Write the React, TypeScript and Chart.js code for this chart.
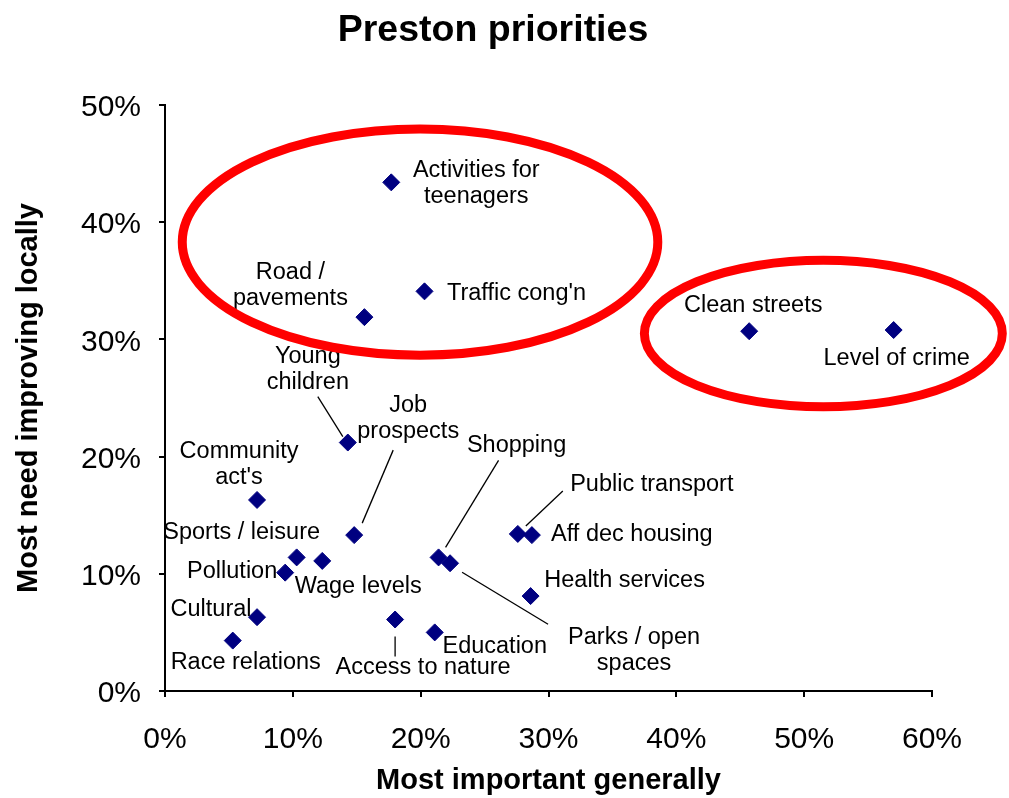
import React, { useEffect, useRef } from "react";
import { Chart, registerables } from "chart.js";

Chart.register(...registerables);

const FONT = '"Liberation Sans", Arial, Helvetica, sans-serif';

const TITLE = "Preston priorities";
const X_TITLE = "Most important generally";
const Y_TITLE = "Most need improving locally";

// Category labels ("\n" = line break in the label)
const names: string[] = [
  "Activities for\nteenagers",
  "Traffic cong'n",
  "Road /\npavements",
  "Clean streets",
  "Level of crime",
  "Young\nchildren",
  "Community\nact's",
  "Job\nprospects",
  "Sports / leisure",
  "Wage levels",
  "Pollution",
  "Cultural",
  "Race relations",
  "Access to nature",
  "Education",
  "Shopping",
  "Parks / open\nspaces",
  "Public transport",
  "Aff dec housing",
  "Health services",
];

// Most important generally (%)
const importantGenerally: number[] = [
  17.7, 20.3, 15.6, 45.7, 57.0, 14.3, 7.2, 14.8, 10.3, 12.3,
  9.4, 7.2, 5.3, 18.0, 21.1, 21.4, 22.3, 27.6, 28.7, 28.6,
];

// Most need improving locally (%)
const needImproving: number[] = [
  43.4, 34.1, 31.9, 30.7, 30.8, 21.2, 16.3, 13.3, 11.4, 11.1,
  10.1, 6.3, 4.3, 6.1, 5.0, 11.4, 10.9, 13.4, 13.3, 8.1,
];

const xTickValues: number[] = [0, 10, 20, 30, 40, 50, 60];
const yTickValues: number[] = [0, 10, 20, 30, 40, 50];

// Highlight ellipses (in data units: centre and radii)
const ellipseCx: number[] = [19.95, 51.5];
const ellipseCy: number[] = [38.3, 30.5];
const ellipseRx: number[] = [18.6, 14.0];
const ellipseRy: number[] = [9.65, 6.25];

// Label placement (pixel offsets of text block centre from the point, optional leader line)
const labelLayout: { dx: number; dy: number; line?: [number, number, number, number] }[] = [
  { dx: 85, dy: 1 },
  { dx: 92, dy: 2 },
  { dx: -74, dy: -31.5 },
  { dx: 4, dy: -26 },
  { dx: 3, dy: 28 },
  { dx: -40, dy: -73, line: [-30, -46, -5, -6] },
  { dx: -18, dy: -35.5 },
  { dx: 54, dy: -117, line: [39, -85, 8, -12] },
  { dx: -55, dy: -25 },
  { dx: 36, dy: 26 },
  { dx: -53, dy: -1 },
  { dx: -46, dy: -8 },
  { dx: 13, dy: 22 },
  { dx: 28, dy: 48, line: [0, 17, 0, 37] },
  { dx: 60, dy: 14 },
  { dx: 78, dy: -112, line: [60, -97, 7, -10] },
  { dx: 184, dy: 87, line: [12, 9, 98, 61] },
  { dx: 134, dy: -49, line: [45, -43, 8, -8] },
  { dx: 100, dy: -1 },
  { dx: 94, dy: -16 },
];

const annotationPlugin = {
  id: "annotations",
  afterDatasetsDraw(chart: any) {
    const ctx: CanvasRenderingContext2D = chart.ctx;
    const xs = chart.scales.x;
    const ys = chart.scales.y;
    ctx.save();
    // point labels and leader lines
    ctx.fillStyle = "#000";
    ctx.font = `23.5px ${FONT}`;
    ctx.textAlign = "center";
    ctx.textBaseline = "middle";
    const lh = 26;
    names.forEach((name, i) => {
      const px = xs.getPixelForValue(importantGenerally[i]);
      const py = ys.getPixelForValue(needImproving[i]);
      const lay = labelLayout[i];
      const lines = name.split("\n");
      const cx = px + lay.dx;
      const cy = py + lay.dy;
      lines.forEach((ln, j) => {
        const y = cy + (j - (lines.length - 1) / 2) * lh;
        ctx.fillText(ln, cx, y);
      });
      if (lay.line) {
        ctx.strokeStyle = "#000";
        ctx.lineWidth = 1.3;
        ctx.beginPath();
        ctx.moveTo(px + lay.line[0], py + lay.line[1]);
        ctx.lineTo(px + lay.line[2], py + lay.line[3]);
        ctx.stroke();
      }
    });
    // red ellipses
    ctx.strokeStyle = "#ff0000";
    ctx.lineWidth = 9;
    ellipseCx.forEach((ecx, i) => {
      const cx = xs.getPixelForValue(ecx);
      const cy = ys.getPixelForValue(ellipseCy[i]);
      const rx = xs.getPixelForValue(ecx + ellipseRx[i]) - cx;
      const ry = cy - ys.getPixelForValue(ellipseCy[i] + ellipseRy[i]);
      ctx.beginPath();
      ctx.ellipse(cx, cy, rx, ry, 0, 0, Math.PI * 2);
      ctx.stroke();
    });
    // chart title
    ctx.fillStyle = "#000";
    ctx.font = `bold 37.5px ${FONT}`;
    ctx.textAlign = "center";
    ctx.textBaseline = "alphabetic";
    ctx.fillText(TITLE, 493, 41);
    ctx.restore();
  },
};

export default function App() {
  const canvasRef = useRef<HTMLCanvasElement | null>(null);

  useEffect(() => {
    if (!canvasRef.current) return;
    const data = importantGenerally.map((x, i) => ({ x, y: needImproving[i] }));
    const chart = new Chart(canvasRef.current, {
      type: "scatter",
      data: {
        datasets: [
          {
            label: "Priorities",
            data,
            pointStyle: "rectRot",
            pointRadius: 8.5,
            pointHoverRadius: 8.5,
            backgroundColor: "#000080",
            borderColor: "#000080",
            borderWidth: 1,
          },
        ],
      },
      options: {
        responsive: false,
        animation: false,
        devicePixelRatio: 1,
        layout: { padding: { left: 0, right: 77, top: 105, bottom: 0 } },
        plugins: {
          legend: { display: false },
          title: { display: false },
          tooltip: { enabled: false },
        },
        scales: {
          x: {
            type: "linear",
            min: 0,
            max: 60,
            afterBuildTicks: (s: any) => {
              s.ticks = xTickValues.map((v) => ({ value: v }));
            },
            afterFit: (s: any) => {
              s.height = 107;
            },
            ticks: {
              callback: (v: any) => `${v}%`,
              font: { size: 30, family: FONT },
              color: "#000",
              padding: 25,
              maxRotation: 0,
            },
            grid: {
              drawOnChartArea: false,
              drawTicks: true,
              tickLength: 6,
              color: "#000",
              lineWidth: 2,
            },
            border: { display: true, color: "#000", width: 2 },
            title: {
              display: true,
              text: X_TITLE,
              font: { size: 29, weight: "bold", family: FONT },
              color: "#000",
              padding: { top: 0, bottom: 0 },
            },
          },
          y: {
            type: "linear",
            min: 0,
            max: 50,
            afterBuildTicks: (s: any) => {
              s.ticks = yTickValues.map((v) => ({ value: v }));
            },
            afterFit: (s: any) => {
              s.width = 165;
            },
            ticks: {
              callback: (v: any) => `${v}%`,
              font: { size: 30, family: FONT },
              color: "#000",
              padding: 18,
              labelOffset: 3,
            },
            grid: {
              drawOnChartArea: false,
              drawTicks: true,
              tickLength: 6,
              color: "#000",
              lineWidth: 2,
            },
            border: { display: true, color: "#000", width: 2 },
            title: {
              display: true,
              text: Y_TITLE,
              font: { size: 29, weight: "bold", family: FONT },
              color: "#000",
              padding: { top: 12, bottom: 0 },
            },
          },
        },
      },
      plugins: [annotationPlugin],
    });
    return () => chart.destroy();
  }, []);

  return (
    <div
      style={{
        position: "absolute",
        left: 0,
        top: 0,
        width: 1009,
        height: 798,
        background: "#fff",
      }}
    >
      <canvas ref={canvasRef} width={1009} height={798} style={{ display: "block" }} />
    </div>
  );
}
